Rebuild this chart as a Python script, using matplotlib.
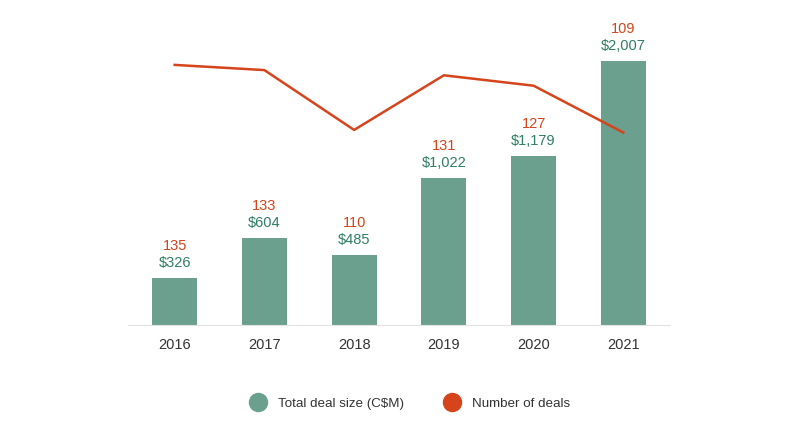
import numpy as np
import matplotlib.pyplot as plt
from matplotlib.lines import Line2D

years = ["2016", "2017", "2018", "2019", "2020", "2021"]
deal_size = [326, 604, 485, 1022, 1179, 2007]
deal_count = [135, 133, 110, 131, 127, 109]
size_labels = ["$326", "$604", "$485", "$1,022", "$1,179", "$2,007"]

bar_color = "#6b9f8e"
green_text = "#2f7d62"
orange = "#d5441b"

plt.rcParams['font.family'] = ['Liberation Sans', 'DejaVu Sans']

fig = plt.figure(figsize=(8, 4.42), dpi=100)
ax = fig.add_axes([0.16, 0.2647, 0.6775, 0.5973])
x = np.arange(len(years))

bars = ax.bar(x, deal_size, width=0.5, color=bar_color, zorder=2)
ax.set_xlim(-0.52, 5.52)
ax.set_ylim(0, 1840)

ax2 = ax.twinx()
ax2.plot(x, deal_count, color=orange, lw=1.8, zorder=3)
ax2.set_ylim(35, 136.5)

# labels above each bar (bar top capped at the plot top)
for xi, v, lab, c in zip(x, deal_size, size_labels, deal_count):
    top = min(v, 1840)
    ax.annotate(lab, (xi, top), xytext=(0, 6), textcoords="offset points",
                ha="center", va="bottom", color=green_text, fontsize=10.5,
                annotation_clip=False)
    ax.annotate(str(c), (xi, top), xytext=(0, 18), textcoords="offset points",
                ha="center", va="bottom", color=orange, fontsize=10.5,
                annotation_clip=False)

for a in (ax, ax2):
    for s in a.spines.values():
        s.set_visible(False)
    a.set_yticks([])
ax.spines['bottom'].set_visible(True)
ax.spines['bottom'].set_color("#e2e2e2")
ax.set_xticks(x)
ax.set_xticklabels(years, fontsize=10.5, color="#333333")
ax.tick_params(axis='x', length=0, pad=9)

handles = [Line2D([], [], marker='o', ls='', ms=13, color=bar_color),
           Line2D([], [], marker='o', ls='', ms=13, color=orange)]
fig.legend(handles, ["Total deal size (C$M)", "Number of deals"],
           loc="center", bbox_to_anchor=(0.509, 0.086), ncol=2, frameon=False,
           fontsize=9.6, handletextpad=0.5, columnspacing=2.6,
           labelcolor="#333333")

fig.savefig("out.png", dpi=100)
